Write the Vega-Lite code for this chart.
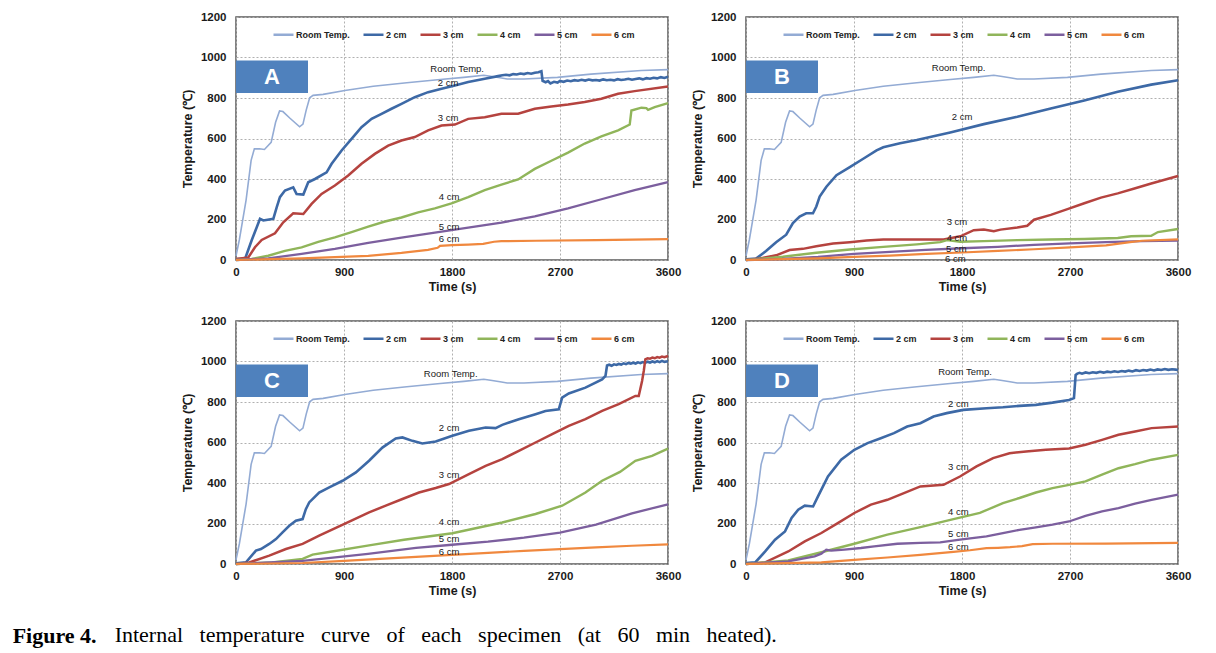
{
"$schema": "https://vega.github.io/schema/vega-lite/v6.json",
"padding": {"left": 12, "top": 10, "right": 5, "bottom": 5},
"background": "white",
"datasets": {
"room": [
{"s":"Room Temp.","t":0,"v":20},{"s":"Room Temp.","t":28,"v":100},{"s":"Room Temp.","t":84,"v":296},{"s":"Room Temp.","t":126,"v":492},{"s":"Room Temp.","t":153,"v":549},{"s":"Room Temp.","t":195,"v":549},{"s":"Room Temp.","t":237,"v":546},{"s":"Room Temp.","t":293,"v":581},{"s":"Room Temp.","t":330,"v":680},{"s":"Room Temp.","t":363,"v":736},{"s":"Room Temp.","t":391,"v":733},{"s":"Room Temp.","t":450,"v":700},{"s":"Room Temp.","t":530,"v":658},{"s":"Room Temp.","t":558,"v":671},{"s":"Room Temp.","t":585,"v":740},{"s":"Room Temp.","t":614,"v":801},{"s":"Room Temp.","t":642,"v":813},{"s":"Room Temp.","t":726,"v":818},{"s":"Room Temp.","t":907,"v":837},{"s":"Room Temp.","t":1144,"v":858},{"s":"Room Temp.","t":1423,"v":875},{"s":"Room Temp.","t":1702,"v":891},{"s":"Room Temp.","t":1898,"v":902},{"s":"Room Temp.","t":2065,"v":912},{"s":"Room Temp.","t":2121,"v":907},{"s":"Room Temp.","t":2200,"v":900},{"s":"Room Temp.","t":2260,"v":894},{"s":"Room Temp.","t":2400,"v":894},{"s":"Room Temp.","t":2679,"v":902},{"s":"Room Temp.","t":2958,"v":918},{"s":"Room Temp.","t":3377,"v":936},{"s":"Room Temp.","t":3600,"v":940}
],
"box": [
{"p":"A","t":0,"t2":600,"v":825,"v2":985},{"p":"B","t":0,"t2":600,"v":825,"v2":985},{"p":"C","t":0,"t2":600,"v":825,"v2":985},{"p":"D","t":0,"t2":600,"v":825,"v2":985}
],
"letter": [
{"p":"A","t":300,"v":905,"label":"A"},{"p":"B","t":300,"v":905,"label":"B"},{"p":"C","t":300,"v":905,"label":"C"},{"p":"D","t":300,"v":905,"label":"D"}
],
"lab": [
{"p":"A","t":1843,"v":944,"label":"Room Temp."},{"p":"A","t":1768,"v":874,"label":"2 cm"},{"p":"A","t":1768,"v":702,"label":"3 cm"},{"p":"A","t":1776,"v":313,"label":"4 cm"},{"p":"A","t":1776,"v":162,"label":"5 cm"},{"p":"A","t":1776,"v":104,"label":"6 cm"},
{"p":"B","t":1772,"v":948,"label":"Room Temp."},{"p":"B","t":1800,"v":704,"label":"2 cm"},{"p":"B","t":1758,"v":190,"label":"3 cm"},{"p":"B","t":1758,"v":111,"label":"4 cm"},{"p":"B","t":1753,"v":54,"label":"5 cm"},{"p":"B","t":1744,"v":7,"label":"6 cm"},
{"p":"C","t":1789,"v":937,"label":"Room Temp."},{"p":"C","t":1775,"v":674,"label":"2 cm"},{"p":"C","t":1775,"v":439,"label":"3 cm"},{"p":"C","t":1775,"v":205,"label":"4 cm"},{"p":"C","t":1775,"v":123,"label":"5 cm"},{"p":"C","t":1775,"v":58,"label":"6 cm"},
{"p":"D","t":1825,"v":950,"label":"Room Temp."},{"p":"D","t":1770,"v":791,"label":"2 cm"},{"p":"D","t":1770,"v":478,"label":"3 cm"},{"p":"D","t":1770,"v":255,"label":"4 cm"},{"p":"D","t":1770,"v":150,"label":"5 cm"},{"p":"D","t":1770,"v":82,"label":"6 cm"}
],
"d": [
{"p":"A","s":"2 cm","t":0,"v":5},{"p":"A","s":"2 cm","t":75,"v":5},{"p":"A","s":"2 cm","t":130,"v":96},{"p":"A","s":"2 cm","t":200,"v":203},{"p":"A","s":"2 cm","t":228,"v":195},{"p":"A","s":"2 cm","t":311,"v":203},{"p":"A","s":"2 cm","t":339,"v":260},{"p":"A","s":"2 cm","t":366,"v":310},{"p":"A","s":"2 cm","t":408,"v":343},{"p":"A","s":"2 cm","t":477,"v":359},{"p":"A","s":"2 cm","t":505,"v":326},{"p":"A","s":"2 cm","t":561,"v":323},{"p":"A","s":"2 cm","t":602,"v":384},{"p":"A","s":"2 cm","t":658,"v":400},{"p":"A","s":"2 cm","t":755,"v":433},{"p":"A","s":"2 cm","t":797,"v":475},{"p":"A","s":"2 cm","t":880,"v":541},{"p":"A","s":"2 cm","t":963,"v":598},{"p":"A","s":"2 cm","t":1046,"v":656},{"p":"A","s":"2 cm","t":1130,"v":697},{"p":"A","s":"2 cm","t":1213,"v":722},{"p":"A","s":"2 cm","t":1296,"v":747},{"p":"A","s":"2 cm","t":1379,"v":771},{"p":"A","s":"2 cm","t":1490,"v":804},{"p":"A","s":"2 cm","t":1601,"v":829},{"p":"A","s":"2 cm","t":1713,"v":846},{"p":"A","s":"2 cm","t":1824,"v":862},{"p":"A","s":"2 cm","t":1935,"v":879},{"p":"A","s":"2 cm","t":2073,"v":895},{"p":"A","s":"2 cm","t":2184,"v":908},{"p":"A","s":"2 cm","t":2220,"v":912},{"p":"A","s":"2 cm","t":2250,"v":915},{"p":"A","s":"2 cm","t":2280,"v":912},{"p":"A","s":"2 cm","t":2310,"v":918},{"p":"A","s":"2 cm","t":2340,"v":916},{"p":"A","s":"2 cm","t":2370,"v":921},{"p":"A","s":"2 cm","t":2400,"v":918},{"p":"A","s":"2 cm","t":2430,"v":923},{"p":"A","s":"2 cm","t":2460,"v":920},{"p":"A","s":"2 cm","t":2490,"v":925},{"p":"A","s":"2 cm","t":2520,"v":927},{"p":"A","s":"2 cm","t":2545,"v":932},{"p":"A","s":"2 cm","t":2555,"v":885},{"p":"A","s":"2 cm","t":2580,"v":878},{"p":"A","s":"2 cm","t":2600,"v":884},{"p":"A","s":"2 cm","t":2620,"v":872},{"p":"A","s":"2 cm","t":2650,"v":880},{"p":"A","s":"2 cm","t":2680,"v":876},{"p":"A","s":"2 cm","t":2700,"v":884},{"p":"A","s":"2 cm","t":2730,"v":880},{"p":"A","s":"2 cm","t":2760,"v":886},{"p":"A","s":"2 cm","t":2790,"v":883},{"p":"A","s":"2 cm","t":2820,"v":888},{"p":"A","s":"2 cm","t":2850,"v":885},{"p":"A","s":"2 cm","t":2880,"v":890},{"p":"A","s":"2 cm","t":2910,"v":886},{"p":"A","s":"2 cm","t":2940,"v":891},{"p":"A","s":"2 cm","t":2970,"v":887},{"p":"A","s":"2 cm","t":3000,"v":889},{"p":"A","s":"2 cm","t":3030,"v":886},{"p":"A","s":"2 cm","t":3060,"v":892},{"p":"A","s":"2 cm","t":3090,"v":888},{"p":"A","s":"2 cm","t":3120,"v":890},{"p":"A","s":"2 cm","t":3150,"v":887},{"p":"A","s":"2 cm","t":3180,"v":893},{"p":"A","s":"2 cm","t":3210,"v":889},{"p":"A","s":"2 cm","t":3240,"v":891},{"p":"A","s":"2 cm","t":3270,"v":895},{"p":"A","s":"2 cm","t":3300,"v":890},{"p":"A","s":"2 cm","t":3330,"v":894},{"p":"A","s":"2 cm","t":3360,"v":897},{"p":"A","s":"2 cm","t":3390,"v":892},{"p":"A","s":"2 cm","t":3420,"v":898},{"p":"A","s":"2 cm","t":3450,"v":895},{"p":"A","s":"2 cm","t":3480,"v":900},{"p":"A","s":"2 cm","t":3510,"v":897},{"p":"A","s":"2 cm","t":3540,"v":903},{"p":"A","s":"2 cm","t":3570,"v":899},{"p":"A","s":"2 cm","t":3600,"v":905},
{"p":"A","s":"3 cm","t":0,"v":5},{"p":"A","s":"3 cm","t":103,"v":13},{"p":"A","s":"3 cm","t":158,"v":63},{"p":"A","s":"3 cm","t":214,"v":99},{"p":"A","s":"3 cm","t":325,"v":132},{"p":"A","s":"3 cm","t":394,"v":186},{"p":"A","s":"3 cm","t":477,"v":231},{"p":"A","s":"3 cm","t":561,"v":227},{"p":"A","s":"3 cm","t":630,"v":277},{"p":"A","s":"3 cm","t":713,"v":326},{"p":"A","s":"3 cm","t":824,"v":368},{"p":"A","s":"3 cm","t":935,"v":417},{"p":"A","s":"3 cm","t":1046,"v":475},{"p":"A","s":"3 cm","t":1157,"v":524},{"p":"A","s":"3 cm","t":1268,"v":565},{"p":"A","s":"3 cm","t":1379,"v":590},{"p":"A","s":"3 cm","t":1490,"v":607},{"p":"A","s":"3 cm","t":1601,"v":640},{"p":"A","s":"3 cm","t":1713,"v":664},{"p":"A","s":"3 cm","t":1824,"v":669},{"p":"A","s":"3 cm","t":1935,"v":697},{"p":"A","s":"3 cm","t":2073,"v":705},{"p":"A","s":"3 cm","t":2212,"v":722},{"p":"A","s":"3 cm","t":2351,"v":722},{"p":"A","s":"3 cm","t":2490,"v":747},{"p":"A","s":"3 cm","t":2628,"v":758},{"p":"A","s":"3 cm","t":2767,"v":768},{"p":"A","s":"3 cm","t":2906,"v":780},{"p":"A","s":"3 cm","t":3045,"v":796},{"p":"A","s":"3 cm","t":3184,"v":821},{"p":"A","s":"3 cm","t":3322,"v":834},{"p":"A","s":"3 cm","t":3600,"v":857},
{"p":"A","s":"4 cm","t":0,"v":0},{"p":"A","s":"4 cm","t":130,"v":5},{"p":"A","s":"4 cm","t":269,"v":21},{"p":"A","s":"4 cm","t":408,"v":45},{"p":"A","s":"4 cm","t":547,"v":62},{"p":"A","s":"4 cm","t":685,"v":90},{"p":"A","s":"4 cm","t":824,"v":112},{"p":"A","s":"4 cm","t":963,"v":138},{"p":"A","s":"4 cm","t":1102,"v":165},{"p":"A","s":"4 cm","t":1241,"v":190},{"p":"A","s":"4 cm","t":1379,"v":210},{"p":"A","s":"4 cm","t":1518,"v":235},{"p":"A","s":"4 cm","t":1657,"v":255},{"p":"A","s":"4 cm","t":1796,"v":280},{"p":"A","s":"4 cm","t":1935,"v":310},{"p":"A","s":"4 cm","t":2073,"v":345},{"p":"A","s":"4 cm","t":2212,"v":372},{"p":"A","s":"4 cm","t":2351,"v":398},{"p":"A","s":"4 cm","t":2490,"v":450},{"p":"A","s":"4 cm","t":2628,"v":490},{"p":"A","s":"4 cm","t":2767,"v":530},{"p":"A","s":"4 cm","t":2906,"v":575},{"p":"A","s":"4 cm","t":3045,"v":610},{"p":"A","s":"4 cm","t":3184,"v":640},{"p":"A","s":"4 cm","t":3281,"v":669},{"p":"A","s":"4 cm","t":3295,"v":738},{"p":"A","s":"4 cm","t":3378,"v":752},{"p":"A","s":"4 cm","t":3420,"v":750},{"p":"A","s":"4 cm","t":3434,"v":742},{"p":"A","s":"4 cm","t":3489,"v":755},{"p":"A","s":"4 cm","t":3600,"v":775},
{"p":"A","s":"5 cm","t":0,"v":0},{"p":"A","s":"5 cm","t":269,"v":8},{"p":"A","s":"5 cm","t":547,"v":30},{"p":"A","s":"5 cm","t":824,"v":55},{"p":"A","s":"5 cm","t":1102,"v":85},{"p":"A","s":"5 cm","t":1379,"v":110},{"p":"A","s":"5 cm","t":1657,"v":135},{"p":"A","s":"5 cm","t":1935,"v":160},{"p":"A","s":"5 cm","t":2212,"v":185},{"p":"A","s":"5 cm","t":2490,"v":215},{"p":"A","s":"5 cm","t":2767,"v":255},{"p":"A","s":"5 cm","t":3045,"v":300},{"p":"A","s":"5 cm","t":3322,"v":345},{"p":"A","s":"5 cm","t":3600,"v":385},
{"p":"A","s":"6 cm","t":0,"v":0},{"p":"A","s":"6 cm","t":547,"v":8},{"p":"A","s":"6 cm","t":1102,"v":20},{"p":"A","s":"6 cm","t":1379,"v":35},{"p":"A","s":"6 cm","t":1600,"v":50},{"p":"A","s":"6 cm","t":1680,"v":60},{"p":"A","s":"6 cm","t":1700,"v":70},{"p":"A","s":"6 cm","t":1800,"v":73},{"p":"A","s":"6 cm","t":1935,"v":76},{"p":"A","s":"6 cm","t":2060,"v":80},{"p":"A","s":"6 cm","t":2150,"v":90},{"p":"A","s":"6 cm","t":2212,"v":93},{"p":"A","s":"6 cm","t":2500,"v":95},{"p":"A","s":"6 cm","t":3000,"v":98},{"p":"A","s":"6 cm","t":3600,"v":103},
{"p":"B","s":"2 cm","t":0,"v":3},{"p":"B","s":"2 cm","t":84,"v":7},{"p":"B","s":"2 cm","t":167,"v":44},{"p":"B","s":"2 cm","t":251,"v":88},{"p":"B","s":"2 cm","t":335,"v":125},{"p":"B","s":"2 cm","t":391,"v":182},{"p":"B","s":"2 cm","t":447,"v":215},{"p":"B","s":"2 cm","t":502,"v":231},{"p":"B","s":"2 cm","t":558,"v":231},{"p":"B","s":"2 cm","t":586,"v":264},{"p":"B","s":"2 cm","t":614,"v":313},{"p":"B","s":"2 cm","t":670,"v":362},{"p":"B","s":"2 cm","t":754,"v":419},{"p":"B","s":"2 cm","t":865,"v":459},{"p":"B","s":"2 cm","t":977,"v":500},{"p":"B","s":"2 cm","t":1088,"v":541},{"p":"B","s":"2 cm","t":1144,"v":557},{"p":"B","s":"2 cm","t":1284,"v":577},{"p":"B","s":"2 cm","t":1423,"v":593},{"p":"B","s":"2 cm","t":1702,"v":630},{"p":"B","s":"2 cm","t":1982,"v":671},{"p":"B","s":"2 cm","t":2261,"v":707},{"p":"B","s":"2 cm","t":2540,"v":748},{"p":"B","s":"2 cm","t":2819,"v":788},{"p":"B","s":"2 cm","t":3098,"v":831},{"p":"B","s":"2 cm","t":3377,"v":866},{"p":"B","s":"2 cm","t":3600,"v":888},
{"p":"B","s":"3 cm","t":0,"v":0},{"p":"B","s":"3 cm","t":112,"v":7},{"p":"B","s":"3 cm","t":251,"v":23},{"p":"B","s":"3 cm","t":363,"v":49},{"p":"B","s":"3 cm","t":474,"v":55},{"p":"B","s":"3 cm","t":586,"v":68},{"p":"B","s":"3 cm","t":726,"v":81},{"p":"B","s":"3 cm","t":865,"v":88},{"p":"B","s":"3 cm","t":1005,"v":96},{"p":"B","s":"3 cm","t":1144,"v":101},{"p":"B","s":"3 cm","t":1423,"v":101},{"p":"B","s":"3 cm","t":1647,"v":101},{"p":"B","s":"3 cm","t":1786,"v":117},{"p":"B","s":"3 cm","t":1898,"v":147},{"p":"B","s":"3 cm","t":1982,"v":150},{"p":"B","s":"3 cm","t":2065,"v":142},{"p":"B","s":"3 cm","t":2121,"v":150},{"p":"B","s":"3 cm","t":2261,"v":161},{"p":"B","s":"3 cm","t":2344,"v":169},{"p":"B","s":"3 cm","t":2400,"v":199},{"p":"B","s":"3 cm","t":2540,"v":223},{"p":"B","s":"3 cm","t":2679,"v":251},{"p":"B","s":"3 cm","t":2819,"v":280},{"p":"B","s":"3 cm","t":2958,"v":308},{"p":"B","s":"3 cm","t":3098,"v":329},{"p":"B","s":"3 cm","t":3237,"v":353},{"p":"B","s":"3 cm","t":3377,"v":378},{"p":"B","s":"3 cm","t":3600,"v":415},
{"p":"B","s":"4 cm","t":0,"v":0},{"p":"B","s":"4 cm","t":307,"v":16},{"p":"B","s":"4 cm","t":586,"v":36},{"p":"B","s":"4 cm","t":865,"v":52},{"p":"B","s":"4 cm","t":1144,"v":65},{"p":"B","s":"4 cm","t":1423,"v":77},{"p":"B","s":"4 cm","t":1619,"v":88},{"p":"B","s":"4 cm","t":1675,"v":98},{"p":"B","s":"4 cm","t":1786,"v":90},{"p":"B","s":"4 cm","t":1982,"v":93},{"p":"B","s":"4 cm","t":2261,"v":98},{"p":"B","s":"4 cm","t":2540,"v":101},{"p":"B","s":"4 cm","t":2819,"v":104},{"p":"B","s":"4 cm","t":3098,"v":109},{"p":"B","s":"4 cm","t":3210,"v":117},{"p":"B","s":"4 cm","t":3377,"v":120},{"p":"B","s":"4 cm","t":3433,"v":138},{"p":"B","s":"4 cm","t":3600,"v":153},
{"p":"B","s":"5 cm","t":0,"v":0},{"p":"B","s":"5 cm","t":300,"v":5},{"p":"B","s":"5 cm","t":600,"v":15},{"p":"B","s":"5 cm","t":900,"v":30},{"p":"B","s":"5 cm","t":1200,"v":40},{"p":"B","s":"5 cm","t":1500,"v":50},{"p":"B","s":"5 cm","t":1800,"v":58},{"p":"B","s":"5 cm","t":2100,"v":65},{"p":"B","s":"5 cm","t":2400,"v":75},{"p":"B","s":"5 cm","t":2700,"v":82},{"p":"B","s":"5 cm","t":3000,"v":88},{"p":"B","s":"5 cm","t":3300,"v":93},{"p":"B","s":"5 cm","t":3600,"v":96},
{"p":"B","s":"6 cm","t":0,"v":0},{"p":"B","s":"6 cm","t":600,"v":8},{"p":"B","s":"6 cm","t":900,"v":15},{"p":"B","s":"6 cm","t":1200,"v":22},{"p":"B","s":"6 cm","t":1500,"v":30},{"p":"B","s":"6 cm","t":1800,"v":37},{"p":"B","s":"6 cm","t":2100,"v":45},{"p":"B","s":"6 cm","t":2400,"v":53},{"p":"B","s":"6 cm","t":2700,"v":62},{"p":"B","s":"6 cm","t":3000,"v":72},{"p":"B","s":"6 cm","t":3200,"v":88},{"p":"B","s":"6 cm","t":3300,"v":95},{"p":"B","s":"6 cm","t":3600,"v":102},
{"p":"C","s":"2 cm","t":0,"v":3},{"p":"C","s":"2 cm","t":83,"v":8},{"p":"C","s":"2 cm","t":166,"v":66},{"p":"C","s":"2 cm","t":208,"v":74},{"p":"C","s":"2 cm","t":277,"v":99},{"p":"C","s":"2 cm","t":333,"v":123},{"p":"C","s":"2 cm","t":388,"v":156},{"p":"C","s":"2 cm","t":444,"v":189},{"p":"C","s":"2 cm","t":499,"v":214},{"p":"C","s":"2 cm","t":555,"v":222},{"p":"C","s":"2 cm","t":582,"v":271},{"p":"C","s":"2 cm","t":610,"v":304},{"p":"C","s":"2 cm","t":693,"v":353},{"p":"C","s":"2 cm","t":777,"v":378},{"p":"C","s":"2 cm","t":888,"v":411},{"p":"C","s":"2 cm","t":999,"v":452},{"p":"C","s":"2 cm","t":1109,"v":510},{"p":"C","s":"2 cm","t":1220,"v":575},{"p":"C","s":"2 cm","t":1331,"v":620},{"p":"C","s":"2 cm","t":1387,"v":625},{"p":"C","s":"2 cm","t":1470,"v":608},{"p":"C","s":"2 cm","t":1553,"v":595},{"p":"C","s":"2 cm","t":1664,"v":605},{"p":"C","s":"2 cm","t":1803,"v":633},{"p":"C","s":"2 cm","t":1941,"v":658},{"p":"C","s":"2 cm","t":2080,"v":674},{"p":"C","s":"2 cm","t":2163,"v":671},{"p":"C","s":"2 cm","t":2219,"v":687},{"p":"C","s":"2 cm","t":2357,"v":715},{"p":"C","s":"2 cm","t":2496,"v":740},{"p":"C","s":"2 cm","t":2579,"v":756},{"p":"C","s":"2 cm","t":2690,"v":764},{"p":"C","s":"2 cm","t":2718,"v":822},{"p":"C","s":"2 cm","t":2773,"v":842},{"p":"C","s":"2 cm","t":2912,"v":871},{"p":"C","s":"2 cm","t":3051,"v":912},{"p":"C","s":"2 cm","t":3079,"v":929},{"p":"C","s":"2 cm","t":3092,"v":980},{"p":"C","s":"2 cm","t":3110,"v":984},{"p":"C","s":"2 cm","t":3130,"v":979},{"p":"C","s":"2 cm","t":3150,"v":986},{"p":"C","s":"2 cm","t":3170,"v":983},{"p":"C","s":"2 cm","t":3190,"v":988},{"p":"C","s":"2 cm","t":3210,"v":985},{"p":"C","s":"2 cm","t":3230,"v":991},{"p":"C","s":"2 cm","t":3250,"v":987},{"p":"C","s":"2 cm","t":3270,"v":993},{"p":"C","s":"2 cm","t":3290,"v":989},{"p":"C","s":"2 cm","t":3310,"v":994},{"p":"C","s":"2 cm","t":3330,"v":990},{"p":"C","s":"2 cm","t":3350,"v":996},{"p":"C","s":"2 cm","t":3370,"v":992},{"p":"C","s":"2 cm","t":3390,"v":997},{"p":"C","s":"2 cm","t":3410,"v":993},{"p":"C","s":"2 cm","t":3430,"v":999},{"p":"C","s":"2 cm","t":3450,"v":995},{"p":"C","s":"2 cm","t":3470,"v":1000},{"p":"C","s":"2 cm","t":3490,"v":996},{"p":"C","s":"2 cm","t":3510,"v":1002},{"p":"C","s":"2 cm","t":3530,"v":997},{"p":"C","s":"2 cm","t":3550,"v":1003},{"p":"C","s":"2 cm","t":3570,"v":998},{"p":"C","s":"2 cm","t":3600,"v":1001},
{"p":"C","s":"3 cm","t":0,"v":0},{"p":"C","s":"3 cm","t":111,"v":8},{"p":"C","s":"3 cm","t":277,"v":41},{"p":"C","s":"3 cm","t":416,"v":74},{"p":"C","s":"3 cm","t":555,"v":99},{"p":"C","s":"3 cm","t":693,"v":140},{"p":"C","s":"3 cm","t":832,"v":178},{"p":"C","s":"3 cm","t":971,"v":217},{"p":"C","s":"3 cm","t":1109,"v":255},{"p":"C","s":"3 cm","t":1248,"v":288},{"p":"C","s":"3 cm","t":1387,"v":321},{"p":"C","s":"3 cm","t":1525,"v":353},{"p":"C","s":"3 cm","t":1664,"v":375},{"p":"C","s":"3 cm","t":1775,"v":395},{"p":"C","s":"3 cm","t":1941,"v":444},{"p":"C","s":"3 cm","t":2080,"v":485},{"p":"C","s":"3 cm","t":2219,"v":518},{"p":"C","s":"3 cm","t":2357,"v":559},{"p":"C","s":"3 cm","t":2496,"v":600},{"p":"C","s":"3 cm","t":2635,"v":641},{"p":"C","s":"3 cm","t":2773,"v":682},{"p":"C","s":"3 cm","t":2912,"v":715},{"p":"C","s":"3 cm","t":3051,"v":756},{"p":"C","s":"3 cm","t":3189,"v":789},{"p":"C","s":"3 cm","t":3328,"v":830},{"p":"C","s":"3 cm","t":3356,"v":830},{"p":"C","s":"3 cm","t":3384,"v":904},{"p":"C","s":"3 cm","t":3398,"v":953},{"p":"C","s":"3 cm","t":3411,"v":1011},{"p":"C","s":"3 cm","t":3430,"v":1016},{"p":"C","s":"3 cm","t":3450,"v":1014},{"p":"C","s":"3 cm","t":3470,"v":1019},{"p":"C","s":"3 cm","t":3490,"v":1016},{"p":"C","s":"3 cm","t":3510,"v":1022},{"p":"C","s":"3 cm","t":3530,"v":1019},{"p":"C","s":"3 cm","t":3550,"v":1024},{"p":"C","s":"3 cm","t":3570,"v":1021},{"p":"C","s":"3 cm","t":3600,"v":1027},
{"p":"C","s":"4 cm","t":0,"v":0},{"p":"C","s":"4 cm","t":300,"v":8},{"p":"C","s":"4 cm","t":555,"v":25},{"p":"C","s":"4 cm","t":638,"v":46},{"p":"C","s":"4 cm","t":800,"v":62},{"p":"C","s":"4 cm","t":1109,"v":92},{"p":"C","s":"4 cm","t":1400,"v":120},{"p":"C","s":"4 cm","t":1803,"v":152},{"p":"C","s":"4 cm","t":2219,"v":205},{"p":"C","s":"4 cm","t":2496,"v":247},{"p":"C","s":"4 cm","t":2718,"v":288},{"p":"C","s":"4 cm","t":2912,"v":353},{"p":"C","s":"4 cm","t":3051,"v":411},{"p":"C","s":"4 cm","t":3200,"v":455},{"p":"C","s":"4 cm","t":3328,"v":510},{"p":"C","s":"4 cm","t":3467,"v":534},{"p":"C","s":"4 cm","t":3600,"v":570},
{"p":"C","s":"5 cm","t":0,"v":0},{"p":"C","s":"5 cm","t":555,"v":15},{"p":"C","s":"5 cm","t":1100,"v":50},{"p":"C","s":"5 cm","t":1500,"v":80},{"p":"C","s":"5 cm","t":1800,"v":95},{"p":"C","s":"5 cm","t":2100,"v":110},{"p":"C","s":"5 cm","t":2400,"v":130},{"p":"C","s":"5 cm","t":2700,"v":155},{"p":"C","s":"5 cm","t":3000,"v":195},{"p":"C","s":"5 cm","t":3300,"v":250},{"p":"C","s":"5 cm","t":3600,"v":295},
{"p":"C","s":"6 cm","t":0,"v":0},{"p":"C","s":"6 cm","t":555,"v":5},{"p":"C","s":"6 cm","t":900,"v":15},{"p":"C","s":"6 cm","t":1200,"v":25},{"p":"C","s":"6 cm","t":1500,"v":35},{"p":"C","s":"6 cm","t":1800,"v":45},{"p":"C","s":"6 cm","t":2100,"v":55},{"p":"C","s":"6 cm","t":2400,"v":65},{"p":"C","s":"6 cm","t":2700,"v":73},{"p":"C","s":"6 cm","t":3000,"v":82},{"p":"C","s":"6 cm","t":3300,"v":90},{"p":"C","s":"6 cm","t":3600,"v":97},
{"p":"D","s":"2 cm","t":0,"v":5},{"p":"D","s":"2 cm","t":77,"v":8},{"p":"D","s":"2 cm","t":160,"v":62},{"p":"D","s":"2 cm","t":242,"v":120},{"p":"D","s":"2 cm","t":325,"v":161},{"p":"D","s":"2 cm","t":380,"v":227},{"p":"D","s":"2 cm","t":435,"v":268},{"p":"D","s":"2 cm","t":490,"v":288},{"p":"D","s":"2 cm","t":559,"v":284},{"p":"D","s":"2 cm","t":600,"v":334},{"p":"D","s":"2 cm","t":683,"v":432},{"p":"D","s":"2 cm","t":793,"v":515},{"p":"D","s":"2 cm","t":903,"v":564},{"p":"D","s":"2 cm","t":1013,"v":597},{"p":"D","s":"2 cm","t":1123,"v":621},{"p":"D","s":"2 cm","t":1233,"v":646},{"p":"D","s":"2 cm","t":1343,"v":679},{"p":"D","s":"2 cm","t":1453,"v":695},{"p":"D","s":"2 cm","t":1563,"v":728},{"p":"D","s":"2 cm","t":1673,"v":745},{"p":"D","s":"2 cm","t":1811,"v":761},{"p":"D","s":"2 cm","t":2004,"v":769},{"p":"D","s":"2 cm","t":2141,"v":774},{"p":"D","s":"2 cm","t":2279,"v":781},{"p":"D","s":"2 cm","t":2416,"v":786},{"p":"D","s":"2 cm","t":2554,"v":797},{"p":"D","s":"2 cm","t":2692,"v":810},{"p":"D","s":"2 cm","t":2733,"v":819},{"p":"D","s":"2 cm","t":2747,"v":934},{"p":"D","s":"2 cm","t":2761,"v":940},{"p":"D","s":"2 cm","t":2780,"v":944},{"p":"D","s":"2 cm","t":2800,"v":940},{"p":"D","s":"2 cm","t":2830,"v":946},{"p":"D","s":"2 cm","t":2860,"v":942},{"p":"D","s":"2 cm","t":2890,"v":947},{"p":"D","s":"2 cm","t":2920,"v":944},{"p":"D","s":"2 cm","t":2950,"v":949},{"p":"D","s":"2 cm","t":2980,"v":945},{"p":"D","s":"2 cm","t":3010,"v":950},{"p":"D","s":"2 cm","t":3040,"v":947},{"p":"D","s":"2 cm","t":3070,"v":952},{"p":"D","s":"2 cm","t":3100,"v":948},{"p":"D","s":"2 cm","t":3130,"v":953},{"p":"D","s":"2 cm","t":3160,"v":950},{"p":"D","s":"2 cm","t":3190,"v":955},{"p":"D","s":"2 cm","t":3220,"v":951},{"p":"D","s":"2 cm","t":3250,"v":957},{"p":"D","s":"2 cm","t":3280,"v":953},{"p":"D","s":"2 cm","t":3310,"v":958},{"p":"D","s":"2 cm","t":3340,"v":955},{"p":"D","s":"2 cm","t":3370,"v":960},{"p":"D","s":"2 cm","t":3400,"v":956},{"p":"D","s":"2 cm","t":3430,"v":961},{"p":"D","s":"2 cm","t":3460,"v":958},{"p":"D","s":"2 cm","t":3490,"v":963},{"p":"D","s":"2 cm","t":3520,"v":959},{"p":"D","s":"2 cm","t":3550,"v":962},{"p":"D","s":"2 cm","t":3580,"v":960},{"p":"D","s":"2 cm","t":3600,"v":958},
{"p":"D","s":"3 cm","t":0,"v":0},{"p":"D","s":"3 cm","t":160,"v":8},{"p":"D","s":"3 cm","t":352,"v":62},{"p":"D","s":"3 cm","t":490,"v":112},{"p":"D","s":"3 cm","t":628,"v":153},{"p":"D","s":"3 cm","t":765,"v":202},{"p":"D","s":"3 cm","t":903,"v":252},{"p":"D","s":"3 cm","t":1041,"v":293},{"p":"D","s":"3 cm","t":1178,"v":317},{"p":"D","s":"3 cm","t":1316,"v":350},{"p":"D","s":"3 cm","t":1453,"v":383},{"p":"D","s":"3 cm","t":1646,"v":391},{"p":"D","s":"3 cm","t":1783,"v":432},{"p":"D","s":"3 cm","t":1921,"v":482},{"p":"D","s":"3 cm","t":2059,"v":523},{"p":"D","s":"3 cm","t":2196,"v":547},{"p":"D","s":"3 cm","t":2334,"v":556},{"p":"D","s":"3 cm","t":2499,"v":564},{"p":"D","s":"3 cm","t":2692,"v":570},{"p":"D","s":"3 cm","t":2829,"v":589},{"p":"D","s":"3 cm","t":2967,"v":613},{"p":"D","s":"3 cm","t":3104,"v":638},{"p":"D","s":"3 cm","t":3242,"v":654},{"p":"D","s":"3 cm","t":3380,"v":671},{"p":"D","s":"3 cm","t":3600,"v":679},
{"p":"D","s":"4 cm","t":0,"v":0},{"p":"D","s":"4 cm","t":352,"v":18},{"p":"D","s":"4 cm","t":628,"v":58},{"p":"D","s":"4 cm","t":903,"v":100},{"p":"D","s":"4 cm","t":1178,"v":145},{"p":"D","s":"4 cm","t":1453,"v":182},{"p":"D","s":"4 cm","t":1729,"v":222},{"p":"D","s":"4 cm","t":1949,"v":252},{"p":"D","s":"4 cm","t":2141,"v":301},{"p":"D","s":"4 cm","t":2279,"v":326},{"p":"D","s":"4 cm","t":2416,"v":353},{"p":"D","s":"4 cm","t":2554,"v":375},{"p":"D","s":"4 cm","t":2692,"v":391},{"p":"D","s":"4 cm","t":2829,"v":408},{"p":"D","s":"4 cm","t":2967,"v":441},{"p":"D","s":"4 cm","t":3104,"v":473},{"p":"D","s":"4 cm","t":3242,"v":493},{"p":"D","s":"4 cm","t":3380,"v":515},{"p":"D","s":"4 cm","t":3600,"v":539},
{"p":"D","s":"5 cm","t":0,"v":0},{"p":"D","s":"5 cm","t":352,"v":13},{"p":"D","s":"5 cm","t":572,"v":38},{"p":"D","s":"5 cm","t":628,"v":51},{"p":"D","s":"5 cm","t":669,"v":71},{"p":"D","s":"5 cm","t":710,"v":66},{"p":"D","s":"5 cm","t":820,"v":71},{"p":"D","s":"5 cm","t":958,"v":79},{"p":"D","s":"5 cm","t":1068,"v":87},{"p":"D","s":"5 cm","t":1261,"v":100},{"p":"D","s":"5 cm","t":1453,"v":104},{"p":"D","s":"5 cm","t":1618,"v":107},{"p":"D","s":"5 cm","t":1783,"v":120},{"p":"D","s":"5 cm","t":2004,"v":136},{"p":"D","s":"5 cm","t":2141,"v":153},{"p":"D","s":"5 cm","t":2279,"v":169},{"p":"D","s":"5 cm","t":2416,"v":181},{"p":"D","s":"5 cm","t":2554,"v":194},{"p":"D","s":"5 cm","t":2692,"v":210},{"p":"D","s":"5 cm","t":2829,"v":238},{"p":"D","s":"5 cm","t":2967,"v":260},{"p":"D","s":"5 cm","t":3104,"v":276},{"p":"D","s":"5 cm","t":3242,"v":298},{"p":"D","s":"5 cm","t":3380,"v":317},{"p":"D","s":"5 cm","t":3600,"v":342},
{"p":"D","s":"6 cm","t":0,"v":0},{"p":"D","s":"6 cm","t":628,"v":8},{"p":"D","s":"6 cm","t":903,"v":20},{"p":"D","s":"6 cm","t":1178,"v":32},{"p":"D","s":"6 cm","t":1453,"v":45},{"p":"D","s":"6 cm","t":1729,"v":60},{"p":"D","s":"6 cm","t":1866,"v":68},{"p":"D","s":"6 cm","t":2004,"v":78},{"p":"D","s":"6 cm","t":2100,"v":80},{"p":"D","s":"6 cm","t":2200,"v":83},{"p":"D","s":"6 cm","t":2300,"v":88},{"p":"D","s":"6 cm","t":2389,"v":98},{"p":"D","s":"6 cm","t":2554,"v":100},{"p":"D","s":"6 cm","t":3000,"v":101},{"p":"D","s":"6 cm","t":3600,"v":104}
]
},
"title": {"text": "Internal \u00a0\u00a0temperature \u00a0\u00a0curve \u00a0\u00a0of \u00a0\u00a0each \u00a0\u00a0specimen \u00a0\u00a0(at \u00a0\u00a060 \u00a0\u00a0min \u00a0\u00a0heated).", "orient": "bottom", "anchor": "start", "font": "Liberation Serif", "fontSize": 22, "fontWeight": "normal", "color": "#000", "dx": 102, "dy": -22, "offset": 0},
"vconcat": [
{
"title": {"text": "Figure 4.", "orient": "bottom", "anchor": "start", "font": "Liberation Serif", "fontSize": 22, "fontWeight": "bold", "color": "#000", "offset": 28, "dx": -168},
"columns": 2,
"spacing": {"row": 20, "column": 8},
"resolve": {"scale": {"color": "independent", "strokeWidth": "independent"}, "legend": {"color": "independent"}},
"concat": [
{"width": 432, "height": 243,
 "encoding": {"x": {"field": "t", "type": "quantitative", "title": "Time (s)", "scale": {"domain": [0, 3600], "nice": false}, "axis": {"values": [0, 900, 1800, 2700, 3600], "format": "d"}}, "y": {"field": "v", "type": "quantitative", "title": "Temperature (℃)", "scale": {"domain": [0, 1200], "nice": false}, "axis": {"values": [0, 200, 400, 600, 800, 1000, 1200], "format": "d"}}},
 "layer": [
  {"data": {"name": "box"}, "transform": [{"filter": "datum.p == 'A'"}], "mark": {"type": "rect", "fill": "#4F81BD"}, "encoding": {"x2": {"field": "t2"}, "y2": {"field": "v2"}}},
  {"data": {"name": "letter"}, "transform": [{"filter": "datum.p == 'A'"}], "mark": {"type": "text", "font": "Liberation Sans", "fontSize": 22, "fontWeight": "bold", "color": "white", "align": "center", "baseline": "middle"}, "encoding": {"text": {"field": "label"}}},
  {"data": {"name": "room"}, "mark": {"type": "line", "strokeWidth": 1.6}, "encoding": {"color": {"field": "s", "type": "nominal", "scale": {"domain": ["Room Temp.", "2 cm", "3 cm", "4 cm", "5 cm", "6 cm"], "range": ["#93ABD4", "#3D69A6", "#B5433F", "#90B55A", "#7C5F9E", "#F0883E"]}, "legend": {"orient": "none", "legendX": 36, "legendY": 6, "direction": "horizontal", "columns": 6, "title": null, "symbolType": "stroke", "symbolSize": 400, "symbolStrokeWidth": 2.5, "labelFont": "Liberation Sans", "labelFontSize": 9, "labelFontWeight": "bold", "labelColor": "#222", "labelOffset": 1, "columnPadding": 8}}}},
  {"data": {"name": "d"}, "transform": [{"filter": "datum.p == 'A'"}], "mark": {"type": "line"}, "encoding": {"color": {"field": "s", "type": "nominal"}, "strokeWidth": {"field": "s", "type": "nominal", "scale": {"domain": ["2 cm", "3 cm", "4 cm", "5 cm", "6 cm"], "range": [2.6, 2.2, 2, 2, 2.2]}, "legend": null}}},
  {"data": {"name": "lab"}, "transform": [{"filter": "datum.p == 'A'"}], "mark": {"type": "text", "font": "Liberation Sans", "fontSize": 9.5, "color": "#1a1a1a", "align": "center", "baseline": "middle"}, "encoding": {"text": {"field": "label"}}}
 ]
},
{"width": 432, "height": 243,
 "encoding": {"x": {"field": "t", "type": "quantitative", "title": "Time (s)", "scale": {"domain": [0, 3600], "nice": false}, "axis": {"values": [0, 900, 1800, 2700, 3600], "format": "d"}}, "y": {"field": "v", "type": "quantitative", "title": "Temperature (℃)", "scale": {"domain": [0, 1200], "nice": false}, "axis": {"values": [0, 200, 400, 600, 800, 1000, 1200], "format": "d"}}},
 "layer": [
  {"data": {"name": "box"}, "transform": [{"filter": "datum.p == 'B'"}], "mark": {"type": "rect", "fill": "#4F81BD"}, "encoding": {"x2": {"field": "t2"}, "y2": {"field": "v2"}}},
  {"data": {"name": "letter"}, "transform": [{"filter": "datum.p == 'B'"}], "mark": {"type": "text", "font": "Liberation Sans", "fontSize": 22, "fontWeight": "bold", "color": "white", "align": "center", "baseline": "middle"}, "encoding": {"text": {"field": "label"}}},
  {"data": {"name": "room"}, "mark": {"type": "line", "strokeWidth": 1.6}, "encoding": {"color": {"field": "s", "type": "nominal", "scale": {"domain": ["Room Temp.", "2 cm", "3 cm", "4 cm", "5 cm", "6 cm"], "range": ["#93ABD4", "#3D69A6", "#B5433F", "#90B55A", "#7C5F9E", "#F0883E"]}, "legend": {"orient": "none", "legendX": 36, "legendY": 6, "direction": "horizontal", "columns": 6, "title": null, "symbolType": "stroke", "symbolSize": 400, "symbolStrokeWidth": 2.5, "labelFont": "Liberation Sans", "labelFontSize": 9, "labelFontWeight": "bold", "labelColor": "#222", "labelOffset": 1, "columnPadding": 8}}}},
  {"data": {"name": "d"}, "transform": [{"filter": "datum.p == 'B'"}], "mark": {"type": "line"}, "encoding": {"color": {"field": "s", "type": "nominal"}, "strokeWidth": {"field": "s", "type": "nominal", "scale": {"domain": ["2 cm", "3 cm", "4 cm", "5 cm", "6 cm"], "range": [2.6, 2.2, 2, 2, 2.2]}, "legend": null}}},
  {"data": {"name": "lab"}, "transform": [{"filter": "datum.p == 'B'"}], "mark": {"type": "text", "font": "Liberation Sans", "fontSize": 9.5, "color": "#1a1a1a", "align": "center", "baseline": "middle"}, "encoding": {"text": {"field": "label"}}}
 ]
},
{"width": 432, "height": 243,
 "encoding": {"x": {"field": "t", "type": "quantitative", "title": "Time (s)", "scale": {"domain": [0, 3600], "nice": false}, "axis": {"values": [0, 900, 1800, 2700, 3600], "format": "d"}}, "y": {"field": "v", "type": "quantitative", "title": "Temperature (℃)", "scale": {"domain": [0, 1200], "nice": false}, "axis": {"values": [0, 200, 400, 600, 800, 1000, 1200], "format": "d"}}},
 "layer": [
  {"data": {"name": "box"}, "transform": [{"filter": "datum.p == 'C'"}], "mark": {"type": "rect", "fill": "#4F81BD"}, "encoding": {"x2": {"field": "t2"}, "y2": {"field": "v2"}}},
  {"data": {"name": "letter"}, "transform": [{"filter": "datum.p == 'C'"}], "mark": {"type": "text", "font": "Liberation Sans", "fontSize": 22, "fontWeight": "bold", "color": "white", "align": "center", "baseline": "middle"}, "encoding": {"text": {"field": "label"}}},
  {"data": {"name": "room"}, "mark": {"type": "line", "strokeWidth": 1.6}, "encoding": {"color": {"field": "s", "type": "nominal", "scale": {"domain": ["Room Temp.", "2 cm", "3 cm", "4 cm", "5 cm", "6 cm"], "range": ["#93ABD4", "#3D69A6", "#B5433F", "#90B55A", "#7C5F9E", "#F0883E"]}, "legend": {"orient": "none", "legendX": 36, "legendY": 6, "direction": "horizontal", "columns": 6, "title": null, "symbolType": "stroke", "symbolSize": 400, "symbolStrokeWidth": 2.5, "labelFont": "Liberation Sans", "labelFontSize": 9, "labelFontWeight": "bold", "labelColor": "#222", "labelOffset": 1, "columnPadding": 8}}}},
  {"data": {"name": "d"}, "transform": [{"filter": "datum.p == 'C'"}], "mark": {"type": "line"}, "encoding": {"color": {"field": "s", "type": "nominal"}, "strokeWidth": {"field": "s", "type": "nominal", "scale": {"domain": ["2 cm", "3 cm", "4 cm", "5 cm", "6 cm"], "range": [2.6, 2.2, 2, 2, 2.2]}, "legend": null}}},
  {"data": {"name": "lab"}, "transform": [{"filter": "datum.p == 'C'"}], "mark": {"type": "text", "font": "Liberation Sans", "fontSize": 9.5, "color": "#1a1a1a", "align": "center", "baseline": "middle"}, "encoding": {"text": {"field": "label"}}}
 ]
},
{"width": 432, "height": 243,
 "encoding": {"x": {"field": "t", "type": "quantitative", "title": "Time (s)", "scale": {"domain": [0, 3600], "nice": false}, "axis": {"values": [0, 900, 1800, 2700, 3600], "format": "d"}}, "y": {"field": "v", "type": "quantitative", "title": "Temperature (℃)", "scale": {"domain": [0, 1200], "nice": false}, "axis": {"values": [0, 200, 400, 600, 800, 1000, 1200], "format": "d"}}},
 "layer": [
  {"data": {"name": "box"}, "transform": [{"filter": "datum.p == 'D'"}], "mark": {"type": "rect", "fill": "#4F81BD"}, "encoding": {"x2": {"field": "t2"}, "y2": {"field": "v2"}}},
  {"data": {"name": "letter"}, "transform": [{"filter": "datum.p == 'D'"}], "mark": {"type": "text", "font": "Liberation Sans", "fontSize": 22, "fontWeight": "bold", "color": "white", "align": "center", "baseline": "middle"}, "encoding": {"text": {"field": "label"}}},
  {"data": {"name": "room"}, "mark": {"type": "line", "strokeWidth": 1.6}, "encoding": {"color": {"field": "s", "type": "nominal", "scale": {"domain": ["Room Temp.", "2 cm", "3 cm", "4 cm", "5 cm", "6 cm"], "range": ["#93ABD4", "#3D69A6", "#B5433F", "#90B55A", "#7C5F9E", "#F0883E"]}, "legend": {"orient": "none", "legendX": 36, "legendY": 6, "direction": "horizontal", "columns": 6, "title": null, "symbolType": "stroke", "symbolSize": 400, "symbolStrokeWidth": 2.5, "labelFont": "Liberation Sans", "labelFontSize": 9, "labelFontWeight": "bold", "labelColor": "#222", "labelOffset": 1, "columnPadding": 8}}}},
  {"data": {"name": "d"}, "transform": [{"filter": "datum.p == 'D'"}], "mark": {"type": "line"}, "encoding": {"color": {"field": "s", "type": "nominal"}, "strokeWidth": {"field": "s", "type": "nominal", "scale": {"domain": ["2 cm", "3 cm", "4 cm", "5 cm", "6 cm"], "range": [2.6, 2.2, 2, 2, 2.2]}, "legend": null}}},
  {"data": {"name": "lab"}, "transform": [{"filter": "datum.p == 'D'"}], "mark": {"type": "text", "font": "Liberation Sans", "fontSize": 9.5, "color": "#1a1a1a", "align": "center", "baseline": "middle"}, "encoding": {"text": {"field": "label"}}}
 ]
}
]
}
],
"config": {
 "view": {"stroke": "#595959", "strokeWidth": 1.5},
 "axis": {"domain": false, "ticks": false, "grid": true, "gridColor": "#b0b0b0", "gridDash": [2, 2], "gridWidth": 1, "labelFont": "Liberation Sans", "labelFontSize": 11.5, "labelFontWeight": "bold", "labelColor": "#1a1a1a", "titleFont": "Liberation Sans", "titleFontSize": 12.5, "titleFontWeight": "bold", "titleColor": "#1a1a1a"},
 "axisX": {"labelPadding": 6, "titlePadding": 3, "labelFlush": false},
 "axisY": {"labelPadding": 10, "titlePadding": 6}
}
}
